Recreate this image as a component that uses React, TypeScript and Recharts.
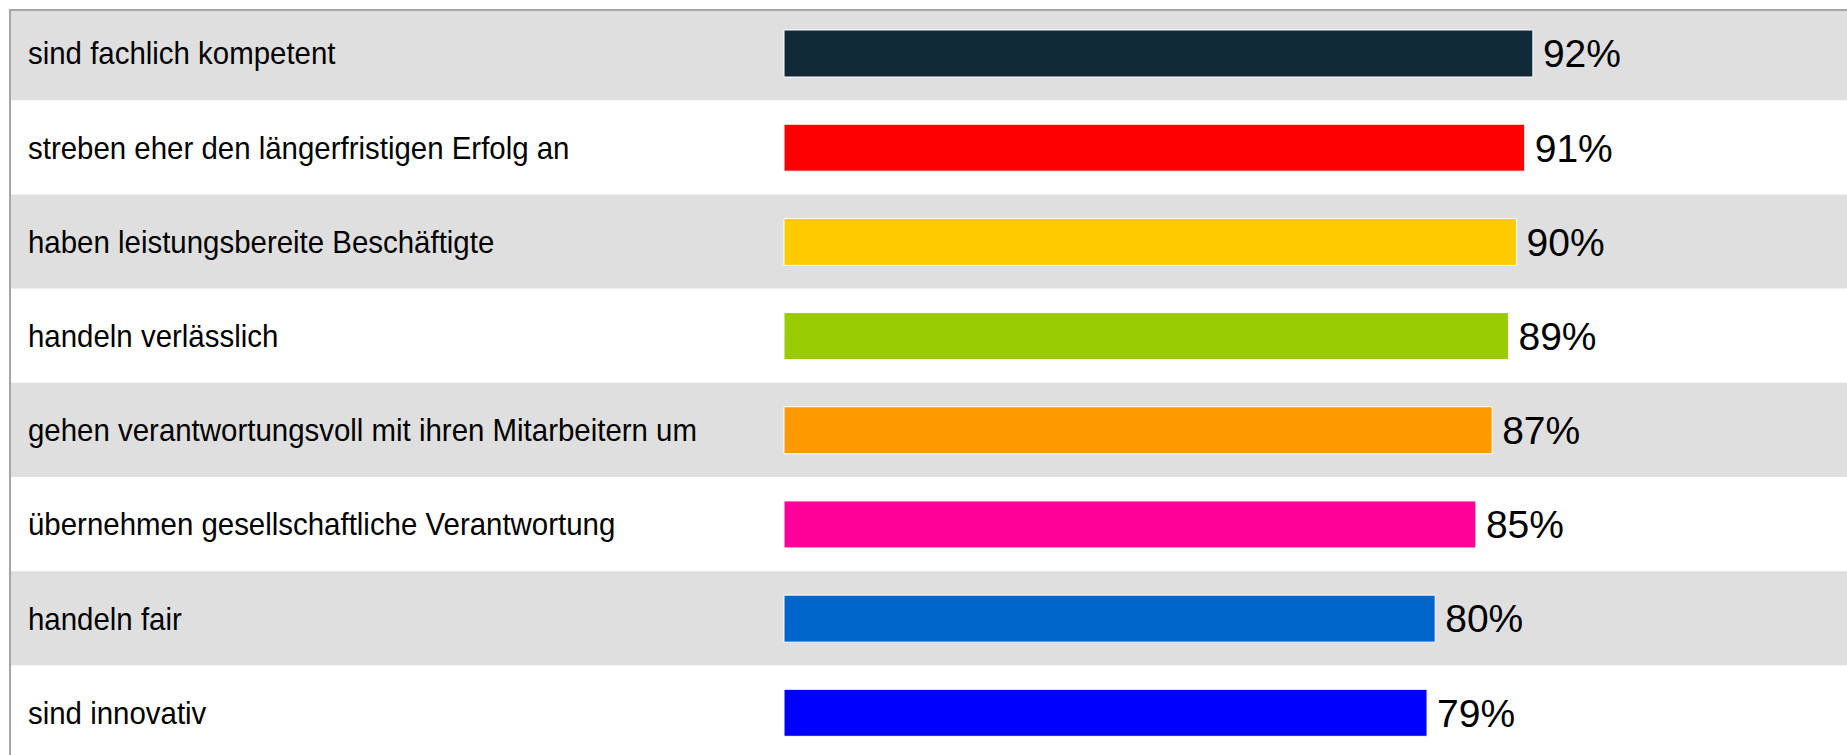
import React from 'react';
import { BarChart, Bar, XAxis, YAxis, Cell, LabelList, ReferenceArea } from 'recharts';

const categories = [
  'sind fachlich kompetent',
  'streben eher den längerfristigen Erfolg an',
  'haben leistungsbereite Beschäftigte',
  'handeln verlässlich',
  'gehen verantwortungsvoll mit ihren Mitarbeitern um',
  'übernehmen gesellschaftliche Verantwortung',
  'handeln fair',
  'sind innovativ',
];
const values = [92, 91, 90, 89, 87, 85, 80, 79];
const colors = ['#0f2937', '#ff0000', '#ffcc00', '#99cc00', '#ff9900', '#ff0099', '#0066cc', '#0000ff'];
const shadedRows = categories.filter((_, i) => i % 2 === 0);

const data = categories.map((name, i) => ({ name, value: values[i] }));

const FONT = '"Liberation Sans", Arial, Helvetica, sans-serif';

const CategoryTick = (props: any) => {
  const { y, payload } = props;
  return (
    <text
      transform={`translate(17, ${y}) scale(0.92, 1)`}
      x={0}
      y={0}
      dy="0.355em"
      textAnchor="start"
      fontFamily={FONT}
      fontSize={32}
      fill="#000"
    >
      {payload.value}
    </text>
  );
};

const ValueLabel = (props: any) => {
  const { x, y, width, height, value } = props;
  const tx = Number(x) + Number(width) + 10;
  const ty = Number(y) + Number(height) / 2;
  return (
    <text
      transform={`translate(${tx}, ${ty}) scale(1, 1)`}
      x={0}
      y={0}
      dy="0.355em"
      textAnchor="start"
      fontFamily={FONT}
      fontSize={39}
      fill="#000"
    >
      {`${value}%`}
    </text>
  );
};

export default function App() {
  return (
    <div
      style={{
        position: 'absolute',
        left: 9,
        top: 9,
        width: 1838,
        height: 746,
        borderTop: '2px solid #a6a6a6',
        borderLeft: '2px solid #a6a6a6',
        overflow: 'hidden',
        background: '#fff',
      }}
    >
      <div style={{ position: 'relative', top: -5 }}>
        <BarChart
          width={1836}
          height={760}
          data={data}
          layout="vertical"
          margin={{ top: 0, right: 249, bottom: 6.5, left: 0 }}
          barSize={47}
        >
          <XAxis type="number" domain={[0, 100]} hide />
          <YAxis
            type="category"
            dataKey="name"
            width={773}
            axisLine={false}
            tickLine={false}
            tick={<CategoryTick />}
            interval={0}
          />
          {shadedRows.map((cat) => (
            <ReferenceArea
              key={cat}
              y1={cat}
              y2={cat}
              x1={-100}
              x2={160}
              ifOverflow="visible"
              fill="#dfdfdf"
              fillOpacity={1}
              stroke="none"
            />
          ))}
          <Bar dataKey="value" isAnimationActive={false} stroke="#ffffff" strokeWidth={1}>
            {data.map((d, i) => (
              <Cell key={d.name} fill={colors[i]} />
            ))}
            <LabelList dataKey="value" content={(p: any) => <ValueLabel {...p} />} />
          </Bar>
        </BarChart>
      </div>
    </div>
  );
}
